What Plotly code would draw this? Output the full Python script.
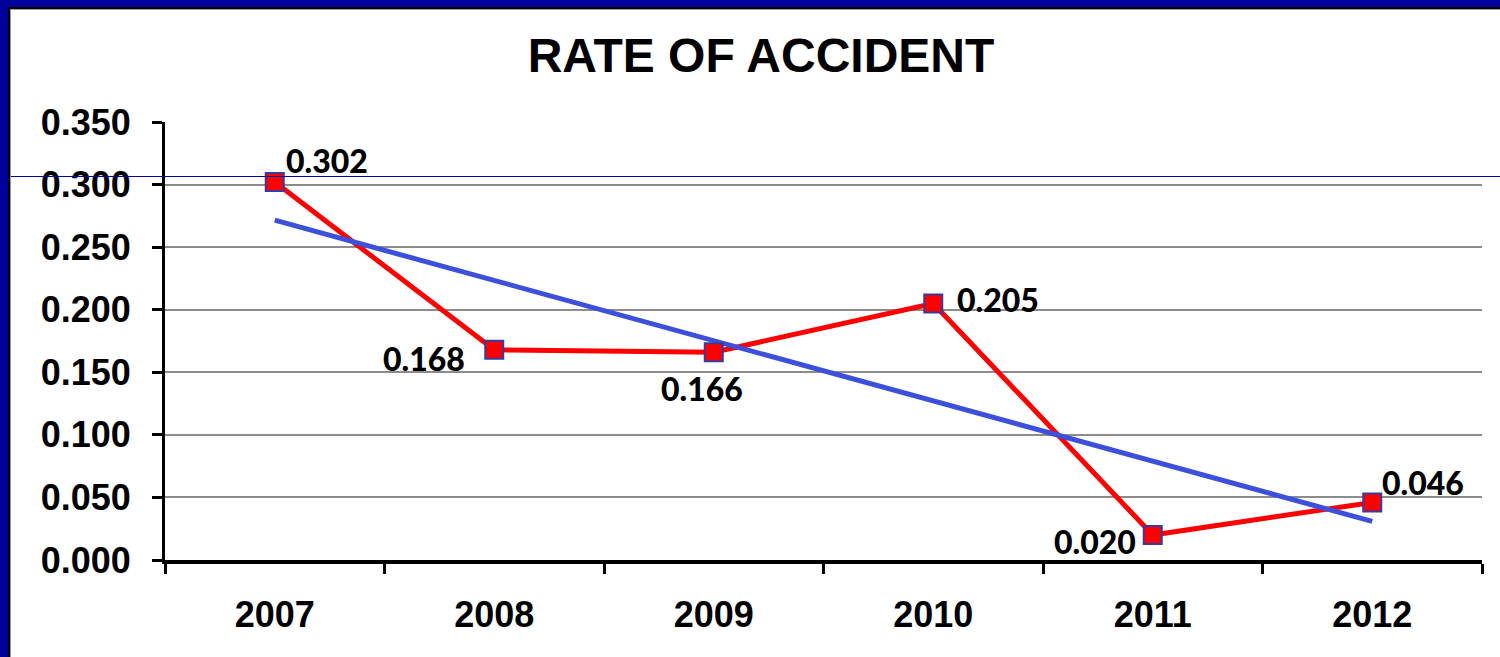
import numpy as np
import plotly.graph_objects as go

# ---- data ----
years = ["2007", "2008", "2009", "2010", "2011", "2012"]
rates = [0.302, 0.168, 0.166, 0.205, 0.020, 0.046]
rate_labels = ["0.302", "0.168", "0.166", "0.205", "0.020", "0.046"]
y_tick_vals = [0.0, 0.05, 0.10, 0.15, 0.20, 0.25, 0.30, 0.35]
y_tick_text = ["0.000", "0.050", "0.100", "0.150", "0.200", "0.250", "0.300", "0.350"]
title_text = "RATE OF ACCIDENT"

# linear trendline from the data
xi = np.arange(len(rates))
slope, intercept = np.polyfit(xi, rates, 1)
trend = list(slope * xi + intercept)

# ---- layout geometry (pixels) ----
W, H = 1500, 657
L, R, T, B = 165, 18, 122, 97
PW, PH = W - L - R, H - T - B


def px(x):
    return (x - L) / PW


def py(y):
    return (H - B - y) / PH


fig = go.Figure()

# red data line (lines only)
fig.add_trace(go.Scatter(
    x=years, y=rates, mode="lines",
    line=dict(color="#FF0000", width=5),
    hoverinfo="skip", showlegend=False,
))
# trendline
fig.add_trace(go.Scatter(
    x=years, y=trend, mode="lines",
    line=dict(color="#3D50DC", width=5),
    hoverinfo="skip", showlegend=False,
))
# markers
fig.add_trace(go.Scatter(
    x=years, y=rates, mode="markers",
    marker=dict(symbol="square", size=18, color="#FF0000",
                line=dict(color="#3A3A9E", width=2)),
    showlegend=False,
))

# data labels (x given as category index)
label_style = [
    dict(xanchor="left", yanchor="middle", xshift=9, yshift=22),
    dict(xanchor="right", yanchor="middle", xshift=-27, yshift=-9),
    dict(xanchor="center", yanchor="middle", xshift=-12, yshift=-36),
    dict(xanchor="left", yanchor="middle", xshift=22, yshift=4),
    dict(xanchor="right", yanchor="middle", xshift=-15, yshift=-7),
    dict(xanchor="left", yanchor="middle", xshift=8, yshift=20),
]
for i, (v, t, st) in enumerate(zip(rates, rate_labels, label_style)):
    fig.add_annotation(
        x=i, y=v, xref="x", yref="y", text=t, showarrow=False,
        font=dict(family="Lato, Noto Sans, sans-serif", size=32, color="#000000", weight=900),
        **st,
    )

shapes = []
# outer dark-blue frame (top and left)
shapes.append(dict(type="rect", xref="paper", yref="paper",
                   x0=px(0), x1=px(W + 5), y0=py(-5), y1=py(7),
                   fillcolor="#00009C", line=dict(width=0), layer="above"))
shapes.append(dict(type="rect", xref="paper", yref="paper",
                   x0=px(-5), x1=px(8), y0=py(H + 5), y1=py(-5),
                   fillcolor="#00009C", line=dict(width=0), layer="above"))
# thin black inner edge
shapes.append(dict(type="line", xref="paper", yref="paper",
                   x0=px(8), x1=px(W + 5), y0=py(8), y1=py(8),
                   line=dict(color="#000000", width=2), layer="above"))
shapes.append(dict(type="line", xref="paper", yref="paper",
                   x0=px(9), x1=px(9), y0=py(8), y1=py(H + 5),
                   line=dict(color="#000000", width=2), layer="above"))
shapes.append(dict(type="line", xref="paper", yref="paper",
                   x0=px(10), x1=px(W + 5), y0=py(9.5), y1=py(9.5),
                   line=dict(color="#9A9A9A", width=1), layer="above"))
shapes.append(dict(type="line", xref="paper", yref="paper",
                   x0=px(10.5), x1=px(10.5), y0=py(10), y1=py(H + 5),
                   line=dict(color="#9A9A9A", width=1), layer="above"))
# thin horizontal blue line across the slide
shapes.append(dict(type="line", xref="paper", yref="paper",
                   x0=px(11), x1=px(W + 5), y0=py(176.5), y1=py(176.5),
                   line=dict(color="#0000A0", width=1), layer="above"))

fig.update_layout(
    width=W, height=H,
    margin=dict(l=L, r=R, t=T, b=B, pad=0),
    paper_bgcolor="#FFFFFF", plot_bgcolor="#FFFFFF",
    title=dict(text=title_text, x=761 / W, xref="container", xanchor="center",
               y=1 - 55 / H, yref="container", yanchor="middle",
               font=dict(family="Arial, Liberation Sans, sans-serif", size=48,
                         color="#000000", weight="bold")),
    shapes=shapes,
    showlegend=False,
)
fig.update_xaxes(
    type="category", range=[-0.5, 5.5],
    showgrid=False, zeroline=False,
    showline=True, linecolor="#000000", linewidth=4,
    ticks="outside", tickson="boundaries", ticklen=10, tickwidth=3, tickcolor="#000000",
    ticklabelstandoff=20,
    tickfont=dict(family="Arial, Liberation Sans, sans-serif", size=36, color="#000000", weight="bold"),
)
fig.update_yaxes(
    range=[0, 0.35], tickvals=y_tick_vals, ticktext=y_tick_text,
    showgrid=True, gridcolor="#8C8C8C", gridwidth=2,
    zeroline=False,
    showline=True, linecolor="#000000", linewidth=3,
    ticks="outside", ticklen=10, tickwidth=3, tickcolor="#000000",
    ticklabelstandoff=14,
    tickfont=dict(family="Arial, Liberation Sans, sans-serif", size=36, color="#000000", weight="bold"),
)

fig.write_html(
    "out.html",
    config={"displayModeBar": False},
    post_script="document.body.style.margin='0';document.body.style.padding='0';",
)
